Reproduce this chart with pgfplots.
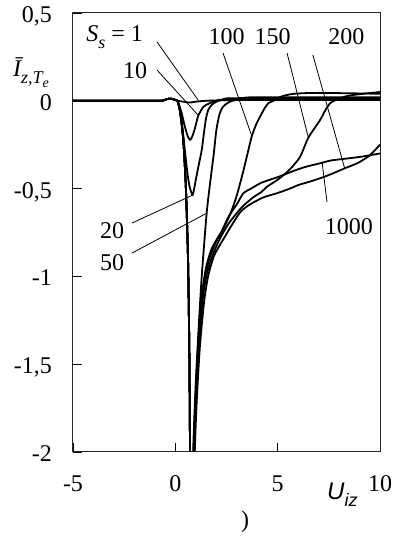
\documentclass[border=0pt]{standalone}
\usepackage{pgfplots}
\pgfplotsset{compat=1.18}
\usepackage{fontspec}
\setmainfont{Liberation Serif}
\newfontfamily\arialfont{Liberation Sans}
\newcommand{\fz}{\fontsize{24}{28}\selectfont}
\newcommand{\sub}[1]{\raisebox{-0.28em}{\fontsize{18}{20}\selectfont #1}}
\newcommand{\subsub}[1]{\raisebox{-0.22em}{\fontsize{14}{16}\selectfont #1}}
\begin{document}
\begin{tikzpicture}
\path[use as bounding box] (-73pt,-85pt) rectangle (323pt,452pt);
\begin{axis}[
  at={(0pt,0pt)}, anchor=south west,
  scale only axis, width=307pt, height=439pt,
  xmin=-5, xmax=10, ymin=-2, ymax=0.5,
  clip mode=individual,
  xtick={-5,0,5,10}, xticklabels={{-5},{0},{5},{10}},
  ytick={-2,-1.5,-1,-0.5,0,0.5},
  yticklabels={{-2},{-1,5},{-1},{-0,5},{0},{0,5}},
  tick align=inside, tickpos=left, major tick length=9pt,
  tick style={black, line width=0.8pt},
  axis line style={line width=1pt, black!85},
  ticklabel style={font=\fz, inner sep=0pt},
  xticklabel style={anchor=base, yshift=-40pt},
  yticklabel style={anchor=base east, xshift=-21pt, yshift=-9.5pt},
  curve/.style={black, line width=1.8pt, mark=none, solid, smooth, tension=0.4},
]
% S_s = 1
\addplot[curve] coordinates {(-5,0) (-1,0) (-0.6,0.002) (-0.4,0.01) (-0.2,0.012) (0,0.005) (0.1,0) (0.4,-0.005) (0.7,-0.01) (1.0,-0.005) (1.5,0) (3,0.004) (10,0.005)};
% 10
\addplot[curve] coordinates {(-5,0) (-1,0) (-0.6,0.002) (-0.4,0.01) (-0.2,0.012) (0,0.005) (0.1,0) (0.2,-0.03) (0.31,-0.07) (0.45,-0.14) (0.6,-0.2) (0.72,-0.222) (0.82,-0.205) (0.95,-0.16) (1.12,-0.085) (1.37,-0.034) (1.53,-0.022) (1.86,-0.005) (2.2,0.005) (3,0.01) (10,0.01)};
% 20
\addplot[curve] coordinates {(-5,0) (-1,0) (-0.6,0.002) (-0.4,0.01) (-0.2,0.012) (0,0.005) (0.1,0) (0.2,-0.04) (0.3,-0.11) (0.4,-0.21) (0.5,-0.32) (0.6,-0.42) (0.7,-0.49) (0.85,-0.535) (1.0,-0.45) (1.1,-0.39) (1.29,-0.28) (1.4,-0.18) (1.5,-0.1) (1.61,-0.052) (1.8,-0.02) (2.1,0) (2.5,0.01) (3.0,0.015) (10,0.015)};
% 50
\addplot[curve] coordinates {(-5,0) (-1,0) (-0.6,0.002) (-0.4,0.01) (-0.2,0.012) (0,0.005) (0.1,0) (0.2,-0.04) (0.3,-0.12) (0.4,-0.24) (0.5,-0.45) (0.56,-0.65) (0.62,-0.9) (0.66,-1.2) (0.69,-1.5) (0.72,-2.0) (0.76,-2.4) (0.81,-2.5) (0.87,-2.0) (1.0,-1.6) (1.15,-1.27) (1.29,-1.0) (1.53,-0.64) (1.75,-0.42) (1.88,-0.3) (2.0,-0.17) (2.15,-0.08) (2.33,-0.034) (2.67,-0.005) (3.3,0.015) (4,0.02) (10,0.02)};
% 100
\addplot[curve] coordinates {(-5,0) (-1,0) (-0.6,0.002) (-0.4,0.01) (-0.2,0.012) (0,0.005) (0.1,0) (0.2,-0.04) (0.3,-0.12) (0.4,-0.24) (0.5,-0.45) (0.56,-0.65) (0.62,-0.9) (0.66,-1.2) (0.69,-1.5) (0.72,-2.0) (0.77,-2.4) (0.83,-2.5) (0.9,-2.0) (1.0,-1.65) (1.15,-1.32) (1.3,-1.1) (1.5,-0.95) (1.75,-0.85) (2.02,-0.79) (2.34,-0.73) (2.7,-0.64) (3.0,-0.54) (3.3,-0.41) (3.55,-0.29) (3.73,-0.204) (3.93,-0.14) (4.14,-0.09) (4.35,-0.045) (4.54,-0.014) (4.8,0) (5.2,0.025) (5.8,0.04) (7,0.045) (10,0.04)};
% 150
\addplot[curve] coordinates {(-5,0) (-1,0) (-0.6,0.002) (-0.4,0.01) (-0.2,0.012) (0,0.005) (0.1,0) (0.2,-0.04) (0.3,-0.12) (0.4,-0.24) (0.5,-0.45) (0.56,-0.65) (0.62,-0.9) (0.66,-1.2) (0.69,-1.5) (0.72,-2.0) (0.77,-2.4) (0.84,-2.5) (0.92,-2.0) (1.02,-1.68) (1.17,-1.36) (1.35,-1.12) (1.55,-0.98) (1.85,-0.87) (2.2,-0.78) (2.6,-0.7) (3.0,-0.64) (3.3,-0.6) (3.8,-0.55) (4.2,-0.52) (4.47,-0.49) (4.8,-0.465) (5.11,-0.44) (5.6,-0.39) (6.09,-0.32) (6.5,-0.21) (7.07,-0.11) (7.3,-0.06) (7.56,-0.014) (7.85,0.005) (8.5,0.03) (10,0.05)};
% 200
\addplot[curve] coordinates {(-5,0) (-1,0) (-0.6,0.002) (-0.4,0.01) (-0.2,0.012) (0,0.005) (0.1,0) (0.2,-0.04) (0.3,-0.12) (0.4,-0.24) (0.5,-0.45) (0.56,-0.65) (0.62,-0.9) (0.66,-1.2) (0.69,-1.5) (0.72,-2.0) (0.78,-2.4) (0.86,-2.5) (0.95,-2.0) (1.05,-1.7) (1.2,-1.4) (1.4,-1.15) (1.6,-1.0) (1.9,-0.88) (2.34,-0.79) (2.8,-0.7) (3.2,-0.63) (3.65,-0.59) (4.3,-0.55) (4.95,-0.527) (5.6,-0.5) (6.0,-0.48) (6.58,-0.46) (7.1,-0.44) (7.56,-0.42) (8.29,-0.384) (8.7,-0.365) (9.03,-0.347) (9.51,-0.31) (10,-0.25)};
% 1000
\addplot[curve] coordinates {(-5,0) (-1,0) (-0.6,0.002) (-0.4,0.01) (-0.2,0.012) (0,0.005) (0.1,0) (0.2,-0.04) (0.3,-0.12) (0.4,-0.24) (0.5,-0.45) (0.56,-0.65) (0.62,-0.9) (0.66,-1.2) (0.69,-1.5) (0.72,-2.0) (0.77,-2.4) (0.83,-2.5) (0.9,-2.0) (1.0,-1.7) (1.15,-1.35) (1.3,-1.12) (1.5,-0.97) (1.75,-0.87) (2.0,-0.8) (2.2,-0.76) (2.6,-0.66) (3.0,-0.59) (3.32,-0.527) (3.7,-0.5) (4.14,-0.47) (4.6,-0.45) (5.11,-0.43) (5.76,-0.4) (6.4,-0.375) (7.07,-0.356) (7.6,-0.34) (8.29,-0.33) (9.0,-0.32) (9.51,-0.31) (10,-0.3)};
% leader lines
\draw[line width=0.8pt] (axis cs:-0.894,0.335) -- (axis cs:1.109,0.005);
\draw[line width=0.8pt] (axis cs:-0.894,0.175) -- (axis cs:1.109,-0.081);
\draw[line width=0.8pt] (axis cs:2.33,0.272) -- (axis cs:3.75,-0.206);
\draw[line width=0.8pt] (axis cs:5.46,0.272) -- (axis cs:6.49,-0.206);
\draw[line width=0.8pt] (axis cs:6.72,0.261) -- (axis cs:8.27,-0.383);
\draw[line width=0.8pt] (axis cs:7.41,-0.576) -- (axis cs:7.17,-0.349);
\draw[line width=0.8pt] (axis cs:-2.115,-0.696) -- (axis cs:0.865,-0.536);
\draw[line width=0.8pt] (axis cs:-2.115,-0.867) -- (axis cs:1.55,-0.639);
% labels
\node[font=\fz, inner sep=0pt] at (axis cs:-2.97,0.363) {\textit{S}\sub{\textit{s}} = 1};
\node[font=\fz, inner sep=0pt] at (axis cs:-1.97,0.17) {10};
\node[font=\fz, inner sep=0pt] at (axis cs:2.5,0.363) {100};
\node[font=\fz, inner sep=0pt] at (axis cs:4.75,0.363) {150};
\node[font=\fz, inner sep=0pt] at (axis cs:8.36,0.363) {200};
\node[font=\fz, inner sep=0pt] at (axis cs:-3.09,-0.741) {20};
\node[font=\fz, inner sep=0pt] at (axis cs:-3.09,-0.924) {50};
\node[font=\fz, inner sep=0pt] at (axis cs:8.48,-0.719) {1000};
\end{axis}
\node[font=\fz, inner sep=0pt, anchor=base west] at (-60pt,375pt) {\itshape \=I\sub{z,T\subsub{e}}};
\node[font=\fz, inner sep=0pt, anchor=base west] at (254pt,-48pt) {\arialfont\itshape U\sub{iz}};
\node[font=\fz, inner sep=0pt] at (172pt,-70pt) {)};
\end{tikzpicture}
\end{document}
